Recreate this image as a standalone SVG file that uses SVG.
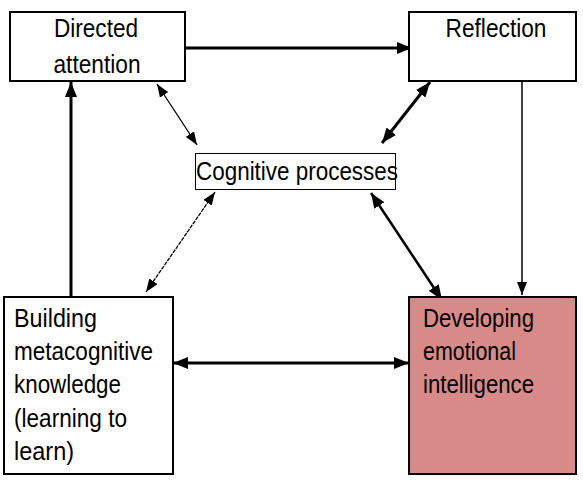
<svg xmlns="http://www.w3.org/2000/svg" width="583" height="480" viewBox="0 0 583 480">
<defs>
<style>
.box{fill:#ffffff;stroke:#000000;stroke-width:2}
.hot{fill:#D88A88;stroke:#000000;stroke-width:2}
.thin{fill:#ffffff;stroke:#000000;stroke-width:1}
text{font-family:"Liberation Sans",Arial,sans-serif;font-size:25px;fill:#000000}
.c{text-anchor:middle}
.ln{fill:none;stroke:#000000}
</style>
<marker id="ah" markerUnits="userSpaceOnUse" markerWidth="15" markerHeight="12" viewBox="0 0 15 12" refX="15" refY="6" orient="auto-start-reverse">
<path d="M0,0 L15,6 L0,12 z" fill="#000000"/>
</marker>
<marker id="as" markerUnits="userSpaceOnUse" markerWidth="13" markerHeight="10" viewBox="0 0 13 10" refX="13" refY="5" orient="auto-start-reverse">
<path d="M0,0 L13,5 L0,10 z" fill="#000000"/>
</marker>
</defs>
<rect width="583" height="480" fill="#ffffff"/>
<g id="connectors">
<line class="ln" x1="185" y1="48" x2="412" y2="48" stroke-width="3" marker-end="url(#ah)"/>
<line class="ln" x1="522" y1="81" x2="522" y2="295" stroke-width="1.5" marker-end="url(#as)"/>
<line class="ln" x1="71" y1="297" x2="71" y2="82" stroke-width="3" marker-end="url(#ah)"/>
<line class="ln" x1="173" y1="363" x2="409" y2="363" stroke-width="3" marker-start="url(#ah)" marker-end="url(#ah)"/>
<line class="ln" x1="157" y1="84" x2="197" y2="145" stroke-width="1.3" marker-start="url(#as)" marker-end="url(#as)"/>
<line class="ln" x1="430" y1="82" x2="382" y2="143" stroke-width="3" marker-start="url(#ah)" marker-end="url(#ah)"/>
<line class="ln" x1="215" y1="192" x2="146" y2="292" stroke-width="1.3" stroke-dasharray="4 1" marker-start="url(#as)" marker-end="url(#as)"/>
<line class="ln" x1="371" y1="193" x2="442" y2="300" stroke-width="2.5" marker-start="url(#ah)" marker-end="url(#ah)"/>
</g>
<g id="directed-attention">
<rect class="box" x="10" y="12" width="175" height="69"/>
<text class="c" x="96" y="37" textLength="84" lengthAdjust="spacingAndGlyphs">Directed</text>
<text class="c" x="97" y="73" textLength="87" lengthAdjust="spacingAndGlyphs">attention</text>
</g>
<g id="reflection">
<rect class="box" x="409" y="12" width="167" height="69"/>
<text class="c" x="496" y="37" textLength="101" lengthAdjust="spacingAndGlyphs">Reflection</text>
</g>
<g id="cognitive-processes">
<rect class="thin" x="195.5" y="153.5" width="200" height="36"/>
<text class="c" x="297" y="180" textLength="202" lengthAdjust="spacingAndGlyphs">Cognitive processes</text>
</g>
<g id="building-metacognitive-knowledge">
<rect class="box" x="4" y="297" width="169" height="177"/>
<text x="14" y="327" textLength="83" lengthAdjust="spacingAndGlyphs">Building</text>
<text x="14" y="360" textLength="139" lengthAdjust="spacingAndGlyphs">metacognitive</text>
<text x="14" y="393" textLength="107" lengthAdjust="spacingAndGlyphs">knowledge</text>
<text x="14" y="427" textLength="113" lengthAdjust="spacingAndGlyphs">(learning to</text>
<text x="14" y="460" textLength="60" lengthAdjust="spacingAndGlyphs">learn)</text>
</g>
<g id="developing-emotional-intelligence">
<rect class="hot" x="409" y="297" width="167" height="177"/>
<text x="423" y="327" textLength="111" lengthAdjust="spacingAndGlyphs">Developing</text>
<text x="423" y="360" textLength="93" lengthAdjust="spacingAndGlyphs">emotional</text>
<text x="423" y="393" textLength="111" lengthAdjust="spacingAndGlyphs">intelligence</text>
</g>
</svg>
